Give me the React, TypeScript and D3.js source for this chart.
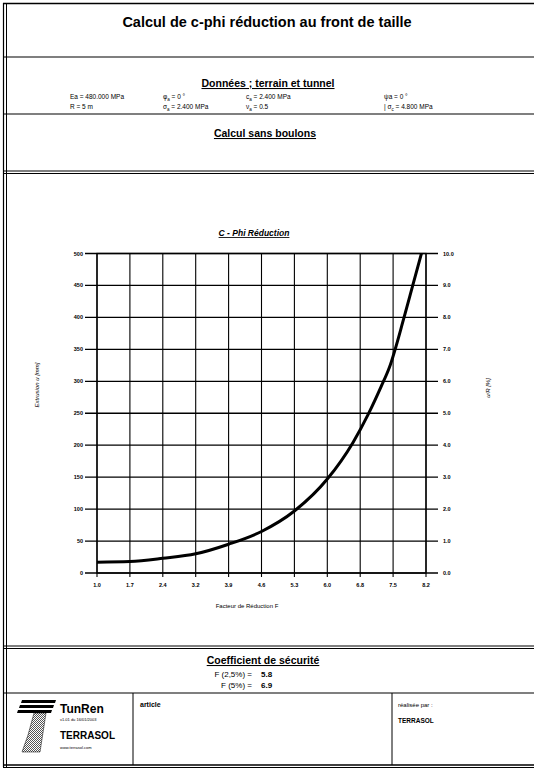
import React from "react";
import * as d3 from "d3";

const factorF = [1.0, 1.72, 2.44, 3.16, 3.88, 4.6, 5.32, 6.04, 6.6, 6.94, 7.22, 7.4, 7.72, 7.91, 8.1];
const extrusionU = [17, 18, 23, 30, 45, 65, 97, 147, 204, 249, 292, 322, 400, 450, 500];
const xTickValues = [1.0, 1.72, 2.44, 3.16, 3.88, 4.6, 5.32, 6.04, 6.76, 7.48, 8.2];
const xTickLabels = ["1.0", "1.7", "2.4", "3.2", "3.9", "4.6", "5.3", "6.0", "6.8", "7.5", "8.2"];
const leftTicks = [0, 50, 100, 150, 200, 250, 300, 350, 400, 450, 500];
const rightTicks = [0, 1, 2, 3, 4, 5, 6, 7, 8, 9, 10];

const FONT = "'Liberation Sans', Arial, sans-serif";

export default function App() {
  const W = 534, H = 770;
  const x = d3.scaleLinear().domain([1.0, 8.2]).range([97, 426]);
  const yL = d3.scaleLinear().domain([0, 500]).range([573, 253.5]);
  const yR = d3.scaleLinear().domain([0, 10]).range([573, 253.5]);
  const pts: [number, number][] = factorF.map((f, i) => [f, extrusionU[i]]);
  const line = d3.line<[number, number]>().x(d => x(d[0])).y(d => yL(d[1])).curve(d3.curveMonotoneX);

  const hline = (y: number, double = false) => (
    <g>
      <line x1={4} x2={W} y1={y} y2={y} stroke="#000" strokeWidth={1.2} />
      {double && <line x1={4} x2={W} y1={y + 2.5} y2={y + 2.5} stroke="#000" strokeWidth={1} />}
    </g>
  );

  const small = { fontFamily: FONT, fontSize: 6.5, fill: "#000" } as const;

  return (
    <svg width={W} height={H} viewBox={`0 0 ${W} ${H}`}
      style={{ position: "absolute", left: 0, top: 0, background: "#fff" }}>
      <defs>
        <pattern id="hatch" width="2" height="2" patternUnits="userSpaceOnUse">
          <rect width="2" height="2" fill="#fff" />
          <rect width="1" height="1" fill="#555" />
          <rect x="1" y="1" width="1" height="1" fill="#555" />
        </pattern>
      </defs>
      <rect x={0} y={0} width={W} height={H} fill="#fff" />
      {/* frame */}
      <line x1={3.5} x2={3.5} y1={3} y2={767} stroke="#000" strokeWidth={1.2} />
      <line x1={6.5} x2={6.5} y1={3} y2={767} stroke="#000" strokeWidth={1} />
      <line x1={3} x2={W} y1={3.5} y2={3.5} stroke="#000" strokeWidth={1.5} />
      {hline(57)}
      {hline(114)}
      {hline(171, true)}
      {hline(646, true)}
      {hline(693)}
      <line x1={3} x2={W} y1={765} y2={765} stroke="#000" strokeWidth={1.5} />
      <line x1={3} x2={W} y1={767.5} y2={767.5} stroke="#000" strokeWidth={1} />

      {/* title */}
      <text x={267} y={27} textAnchor="middle" fontFamily={FONT} fontWeight="bold" fontSize={14.5}>
        Calcul de c-phi réduction au front de taille
      </text>

      <text x={268} y={87} textAnchor="middle" fontFamily={FONT} fontWeight="bold" fontSize={10.5} textDecoration="underline">
        Données ; terrain et tunnel
      </text>
      <text x={70} y={99} {...small}>Ea = 480.000 MPa</text>
      <text x={70} y={109} {...small}>R  =  5  m</text>
      <text x={163} y={99} {...small}>φ<tspan fontSize={4.5} dy={1.5}>a</tspan><tspan dy={-1.5}> =  0 °</tspan></text>
      <text x={163} y={109} {...small}>σ<tspan fontSize={4.5} dy={1.5}>a</tspan><tspan dy={-1.5}> = 2.400 MPa</tspan></text>
      <text x={246} y={99} {...small}>c<tspan fontSize={4.5} dy={1.5}>a</tspan><tspan dy={-1.5}>  = 2.400 MPa</tspan></text>
      <text x={246} y={109} {...small}>ν<tspan fontSize={4.5} dy={1.5}>a</tspan><tspan dy={-1.5}>  = 0.5</tspan></text>
      <text x={384} y={99} {...small}>ψa  =  0 °</text>
      <text x={384} y={109} {...small}>| σ<tspan fontSize={4.5} dy={1.5}>c</tspan><tspan dy={-1.5}>   = 4.800 MPa</tspan></text>

      <text x={265} y={137} textAnchor="middle" fontFamily={FONT} fontWeight="bold" fontSize={10.5} textDecoration="underline">
        Calcul sans boulons
      </text>

      {/* chart title */}
      <text x={254} y={236} textAnchor="middle" fontFamily={FONT} fontWeight="bold" fontStyle="italic" fontSize={8.5} textDecoration="underline">
        C - Phi Réduction
      </text>

      {/* grid */}
      {xTickValues.map((v, i) => (
        <g key={"vx" + i}>
          <line x1={x(v)} x2={x(v)} y1={253.5} y2={577} stroke="#000" strokeWidth={1.1} />
          <text x={x(v)} y={587} textAnchor="middle" fontFamily={FONT} fontWeight="bold" fontSize={5.5}>{xTickLabels[i]}</text>
        </g>
      ))}
      {leftTicks.map((v, i) => (
        <g key={"hl" + i}>
          <line x1={85} x2={438} y1={yL(v)} y2={yL(v)} stroke="#000" strokeWidth={1.3} />
          <text x={83} y={yL(v) + 2} textAnchor="end" fontFamily={FONT} fontWeight="bold" fontSize={5.5}>{v}</text>
        </g>
      ))}
      {rightTicks.map((v, i) => (
        <text key={"rt" + i} x={443} y={yR(v) + 2} fontFamily={FONT} fontWeight="bold" fontSize={5.5}>{v.toFixed(1)}</text>
      ))}
      <rect x={97} y={253.5} width={329} height={319.5} fill="none" stroke="#000" strokeWidth={1.3} />

      {/* curve */}
      <path d={line(pts) || ""} fill="none" stroke="#000" strokeWidth={3} strokeLinejoin="round" />

      {/* axis titles */}
      <text x={247} y={608} textAnchor="middle" fontFamily={FONT} fontSize={6}>Facteur de Réduction F</text>
      <text transform={`translate(39,385) rotate(-90)`} textAnchor="middle" fontFamily={FONT} fontStyle="italic" fontSize={6}>Extrusion u [mm]</text>
      <text transform={`translate(490,388) rotate(-90)`} textAnchor="middle" fontFamily={FONT} fontStyle="italic" fontSize={6}>u/R [%]</text>

      {/* coefficient */}
      <text x={263} y={664} textAnchor="middle" fontFamily={FONT} fontWeight="bold" fontSize={10.5} textDecoration="underline">
        Coefficient de sécurité
      </text>
      <text x={252} y={677} textAnchor="end" fontFamily={FONT} fontSize={8}>F (2,5%) =</text>
      <text x={261} y={677} fontFamily={FONT} fontSize={8} fontWeight="bold">5.8</text>
      <text x={252} y={688} textAnchor="end" fontFamily={FONT} fontSize={8}>F (5%) =</text>
      <text x={261} y={688} fontFamily={FONT} fontSize={8} fontWeight="bold">6.9</text>

      {/* footer */}
      <line x1={133} x2={133} y1={693} y2={765} stroke="#000" strokeWidth={1} />
      <line x1={392} x2={392} y1={693} y2={765} stroke="#000" strokeWidth={1} />
      <g>
        <path d="M22,700 L56,700 L55,703 L21,703 Z" fill="#000" />
        <path d="M20,705 L54,705 L53,708 L19,708 Z" fill="#000" />
        <path d="M18,710 L52,710 L51,713 L17,713 Z" fill="#000" />
        <path d="M34,713 L46,713 L40,752 L22,752 L28,735 Z" fill="url(#hatch)" stroke="#000" strokeWidth={0.5} />
      </g>
      <text x={60} y={713} fontFamily={FONT} fontWeight="bold" fontSize={12}>TunRen</text>
      <text x={60} y={721} fontFamily={FONT} fontSize={4}>v1.01 du 16/01/2003</text>
      <text x={60} y={739} fontFamily={FONT} fontWeight="bold" fontSize={10}>TERRASOL</text>
      <text x={60} y={749} fontFamily={FONT} fontSize={4}>www.terrasol.com</text>
      <text x={140} y={707} fontFamily={FONT} fontSize={7} fontWeight="bold">article</text>
      <text x={398} y={707} fontFamily={FONT} fontSize={6}>réalisée par :</text>
      <text x={398} y={723} fontFamily={FONT} fontSize={6.5} fontWeight="bold">TERRASOL</text>
    </svg>
  );
}
